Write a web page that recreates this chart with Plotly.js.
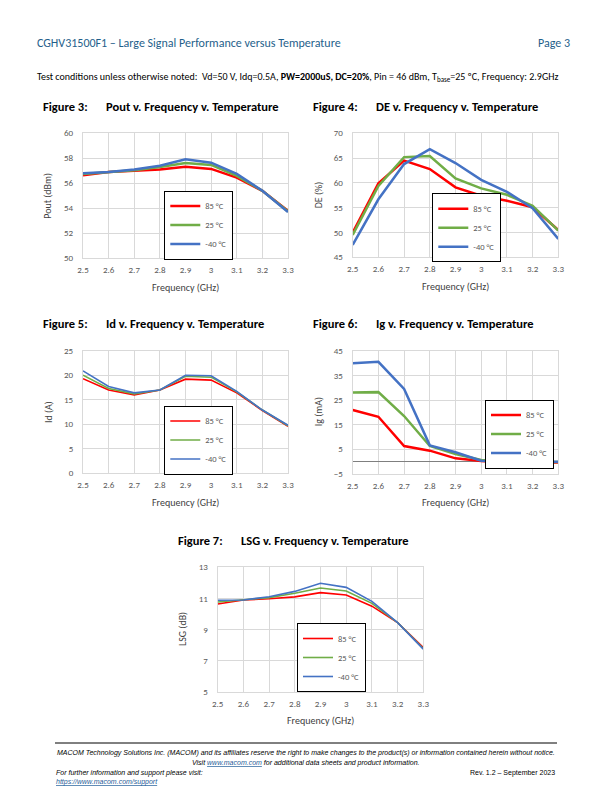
<!DOCTYPE html>
<html>
<head>
<meta charset="utf-8">
<script src="https://cdn.plot.ly/plotly-3.0.1.min.js"></script>
<style>html,body{margin:0;padding:0;background:#fff;}#page{width:612px;height:792px;}</style>
</head>
<body>
<div id="page"></div>
<script>
// ---------------- data ----------------
const freq = [2.5, 2.6, 2.7, 2.8, 2.9, 3.0, 3.1, 3.2, 3.3];
const freqTickText = ['2.5', '2.6', '2.7', '2.8', '2.9', '3', '3.1', '3.2', '3.3'];
const seriesNames = ['85 °C', '25 °C', '-40 °C'];

const pout85  = [56.65, 56.9, 57.0, 57.1, 57.33, 57.15, 56.45, 55.4, 53.8];
const pout25  = [56.75, 56.9, 57.05, 57.3, 57.63, 57.47, 56.6, 55.4, 53.75];
const poutM40 = [56.8, 56.9, 57.1, 57.4, 57.92, 57.65, 56.75, 55.4, 53.7];

const de85  = [50.0, 59.9, 64.5, 62.8, 59.1, 57.4, 56.4, 55.1, 50.5];
const de25  = [49.5, 59.4, 65.2, 65.4, 60.9, 58.9, 57.6, 55.4, 50.4];
const deM40 = [47.5, 56.7, 63.8, 66.8, 64.0, 60.6, 58.2, 54.9, 48.7];

const id85  = [19.3, 17.0, 16.0, 17.0, 19.2, 19.0, 16.4, 12.8, 9.6];
const id25  = [20.0, 17.3, 16.2, 17.0, 19.8, 19.6, 16.6, 12.9, 9.7];
const idM40 = [20.9, 17.7, 16.4, 17.0, 20.0, 19.9, 16.7, 12.9, 9.8];

const ig85  = [20.95, 18.2, 6.35, 4.46, 1.35, 0.3, -0.4, -0.4, -0.3];
const ig25  = [28.0, 28.2, 18.5, 6.35, 3.1, 0.7, -0.25, -0.2, -0.1];
const igM40 = [39.9, 40.5, 29.5, 6.6, 3.8, 0.4, -0.1, 0.0, 0.0];

const lsg85  = [10.64, 10.9, 10.98, 11.1, 11.37, 11.22, 10.5, 9.44, 7.83];
const lsg25  = [10.77, 10.9, 11.05, 11.33, 11.67, 11.48, 10.68, 9.44, 7.78];
const lsgM40 = [10.88, 10.9, 11.11, 11.45, 11.97, 11.71, 10.81, 9.44, 7.74];

const poutTicks = [50, 52, 54, 56, 58, 60];
const deTicks   = [45, 50, 55, 60, 65, 70];
const idTicks   = [0, 5, 10, 15, 20, 25];
const igTicks   = [-5, 5, 15, 25, 35, 45];
const lsgTicks  = [5, 7, 9, 11, 13];

// ---------------- layout helpers ----------------
const W = 612, H = 792;
const PX = p => p / W;
const PY = p => 1 - p / H;
const colors = ['#ff0000', '#70ad47', '#4472c4'];
const FONT = 'Carlito, Lato, "Liberation Sans", sans-serif';
const tickFont = {family: FONT, size: 9, color: '#595959'};
const gridC = '#d9d9d9';

const charts = [
  {n: 1, ys: [pout85, pout25, poutM40], ticks: poutTicks, x0: 83, x1: 288, y0: 133.3, y1: 258.3, lw: 2.5,
   title: ['Figure 3:', 'Pout v. Frequency v. Temperature'], tx: [41, 103.5], ty: 106.5, ytitle: 'Pout (dBm)', ytx: 48,
   leg: [164.3, 225]},
  {n: 2, ys: [de85, de25, deM40], ticks: deTicks, x0: 352.7, x1: 558.3, y0: 133.3, y1: 257.3, lw: 2.5,
   title: ['Figure 4:', 'DE v. Frequency v. Temperature'], tx: [311, 373.5], ty: 106.5, ytitle: 'DE (%)', ytx: 318,
   leg: [432.3, 227.7]},
  {n: 3, ys: [id85, id25, idM40], ticks: idTicks, x0: 83, x1: 288, y0: 350.7, y1: 473.3, lw: 1.6,
   title: ['Figure 5:', 'Id v. Frequency v. Temperature'], tx: [41, 103.5], ty: 323.3, ytitle: 'Id (A)', ytx: 48,
   leg: [164.3, 440]},
  {n: 4, ys: [ig85, ig25, igM40], ticks: igTicks, x0: 352.7, x1: 558.3, y0: 350.7, y1: 474, lw: 2.5,
   title: ['Figure 6:', 'Ig v. Frequency v. Temperature'], tx: [311, 373.5], ty: 323.3, ytitle: 'Ig (mA)', ytx: 318,
   leg: [485, 434], zero: true},
  {n: 5, ys: [lsg85, lsg25, lsgM40], ticks: lsgTicks, x0: 217.7, x1: 423.3, y0: 567.3, y1: 691.7, lw: 1.6,
   title: ['Figure 7:', 'LSG v. Frequency v. Temperature'], tx: [176.5, 239], ty: 540.5, ytitle: 'LSG (dB)', ytx: 182.5,
   leg: [297, 657.5]}
];

const data = [];
const layout = {
  width: W, height: H, margin: {l: 0, r: 0, t: 0, b: 0},
  paper_bgcolor: '#fff', plot_bgcolor: '#fff', showlegend: true,
  font: {family: FONT, color: '#595959'},
  annotations: [], shapes: []
};

charts.forEach(c => {
  const sfx = c.n === 1 ? '' : String(c.n);
  const legName = c.n === 1 ? 'legend' : 'legend' + c.n;
  c.ys.forEach((y, i) => {
    data.push({
      type: 'scatter', mode: 'lines', x: freq, y: y, name: seriesNames[i],
      xaxis: 'x' + sfx, yaxis: 'y' + sfx, legend: legName,
      line: {color: colors[i], width: c.lw}, hoverinfo: 'skip'
    });
  });
  const lo = c.ticks[0], hi = c.ticks[c.ticks.length - 1];
  layout['xaxis' + sfx] = {
    domain: [PX(c.x0), PX(c.x1)], anchor: 'y' + sfx, range: [freq[0], freq[freq.length - 1]],
    tickvals: freq, ticktext: freqTickText, tickfont: tickFont, ticks: '', ticklabelstandoff: 3,
    showgrid: true, gridcolor: gridC, gridwidth: 1, zeroline: false,
    showline: true, linecolor: gridC, linewidth: 1, mirror: true, fixedrange: true
  };
  layout['yaxis' + sfx] = {
    domain: [PY(c.y1), PY(c.y0)], anchor: 'x' + sfx, range: [lo, hi],
    tickvals: c.ticks, tickfont: tickFont, ticks: '', ticklabelstandoff: 7,
    showgrid: true, gridcolor: gridC, gridwidth: 1,
    zeroline: !!c.zero, zerolinecolor: '#7f7f7f', zerolinewidth: 1,
    showline: true, linecolor: gridC, linewidth: 1, mirror: true, fixedrange: true
  };
  layout[legName] = {
    x: PX(c.leg[0]), y: PY(c.leg[1]), xanchor: 'left', yanchor: 'middle', xref: 'paper', yref: 'paper',
    bgcolor: '#fff', bordercolor: '#000', borderwidth: 1,
    font: {family: FONT, size: 8.5, color: '#595959'}, itemwidth: 30, tracegroupgap: 0
  };
  // figure titles
  layout.annotations.push({xref: 'paper', yref: 'paper', x: PX(c.tx[0]), y: PY(c.ty), xanchor: 'left', yanchor: 'middle',
    text: '<b>' + c.title[0] + '</b>', showarrow: false, font: {family: FONT, size: 12.5, color: '#000'}});
  layout.annotations.push({xref: 'paper', yref: 'paper', x: PX(c.tx[1]), y: PY(c.ty), xanchor: 'left', yanchor: 'middle',
    text: '<b>' + c.title[1] + '</b>', showarrow: false, font: {family: FONT, size: 12.5, color: '#000'}});
  // axis titles
  layout.annotations.push({xref: 'paper', yref: 'paper', x: PX((c.x0 + c.x1) / 2), y: PY(c.y1 + 29), xanchor: 'center', yanchor: 'middle',
    text: 'Frequency (GHz)', showarrow: false, font: {family: FONT, size: 10, color: '#404040'}});
  layout.annotations.push({xref: 'paper', yref: 'paper', x: PX(c.ytx), y: PY((c.y0 + c.y1) / 2), xanchor: 'center', yanchor: 'middle',
    text: c.ytitle, textangle: -90, showarrow: false, font: {family: FONT, size: 10, color: '#404040'}});
});

// page header / conditions / footer texts
const headerTxt = 'CGHV31500F1 – Large Signal Performance versus Temperature';
const pageTxt = 'Page 3';
const condTxt = 'Test conditions unless otherwise noted:  Vd=50 V, Idq=0.5A, <b>PW=2000uS, DC=20%</b>, Pin = 46 dBm, T<sub>base</sub>=25 ºC, Frequency: 2.9GHz';
const foot1 = 'MACOM Technology Solutions Inc. (MACOM) and its affiliates reserve the right to make changes to the product(s) or information contained herein without notice.';
const foot2 = 'Visit <span style="color:#1f5c99;text-decoration:underline">www.macom.com</span> for additional data sheets and product information.';
const foot3 = 'For further information and support please visit:';
const foot4 = '<span style="color:#1f5c99;text-decoration:underline">https://www.macom.com/support</span>';
const foot5 = 'Rev. 1.2 – September 2023';

const A = (x, y, text, xanchor, font) => layout.annotations.push({xref: 'paper', yref: 'paper', x: PX(x), y: PY(y),
  xanchor: xanchor, yanchor: 'middle', text: text, showarrow: false, font: font});

A(35, 43, headerTxt, 'left', {family: FONT, size: 12, color: '#1f5f8b'});
A(572, 43, pageTxt, 'right', {family: FONT, size: 12, color: '#1f5f8b'});
A(35, 77, condTxt, 'left', {family: FONT, size: 10, color: '#000'});
const FF = '"Liberation Sans", Arial, sans-serif';
A(306, 753, '<i>' + foot1 + '</i>', 'center', {family: FF, size: 7, color: '#000'});
A(306, 763, '<i>' + foot2 + '</i>', 'center', {family: FF, size: 7, color: '#000'});
A(54, 772.5, '<i>' + foot3 + '</i>', 'left', {family: FF, size: 7, color: '#000'});
A(54, 782, '<i>' + foot4 + '</i>', 'left', {family: FF, size: 7, color: '#000'});
A(557, 772.5, foot5, 'right', {family: FF, size: 7, color: '#000'});

layout.shapes.push({type: 'line', xref: 'paper', yref: 'paper', x0: PX(55), x1: PX(557), y0: PY(743), y1: PY(743),
  line: {color: '#000', width: 1}});

Plotly.newPlot('page', data, layout, {staticPlot: true, displayModeBar: false});
</script>
</body>
</html>
